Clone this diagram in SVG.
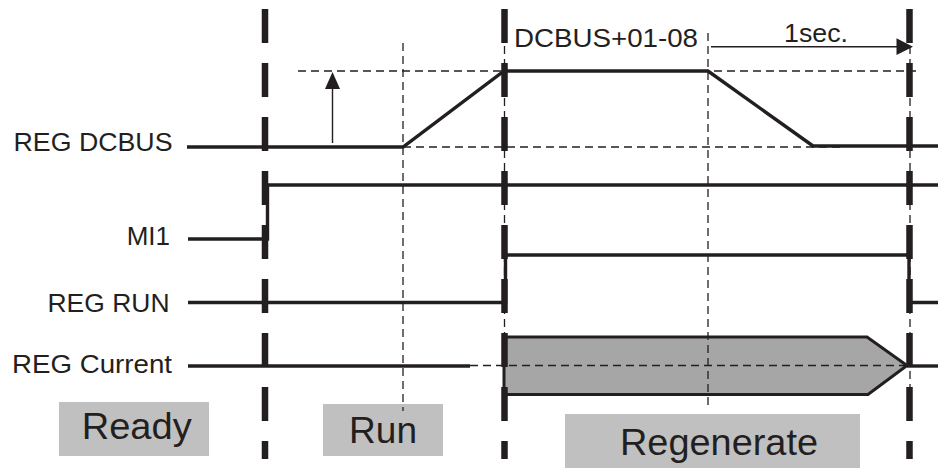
<svg xmlns="http://www.w3.org/2000/svg" width="938" height="470" viewBox="0 0 938 470">
<style>
  text { font-family: "Liberation Sans", Arial, sans-serif; fill: #231f20; }
  .lbl { font-size: 26px; text-anchor: end; }
  .phase { font-size: 36px; }
  .sig { fill: none; stroke: #231f20; stroke-width: 3.4; stroke-linejoin: miter; }
  .thin { fill: none; stroke: #231f20; stroke-width: 1.3; stroke-dasharray: 8 5; }
  .thick { fill: none; stroke: #231f20; stroke-width: 6.5; stroke-dasharray: 34 20; }
  .box { fill: #c1c0c0; }
</style>
<rect width="938" height="470" fill="#ffffff"/>

<g id="phase-boxes">
  <rect class="box" x="59" y="402" width="150" height="54"/>
  <rect class="box" x="323" y="404" width="120" height="52"/>
  <rect class="box" x="565" y="414" width="295" height="54"/>
</g>

<g id="guides">
  <line class="thin" x1="298" y1="71" x2="916" y2="71"/>
  <line class="thin" x1="403" y1="147" x2="841" y2="147"/>
  <line class="thin" x1="403" y1="43" x2="403" y2="411"/>
  <line class="thin" x1="504.5" y1="33" x2="504.5" y2="408"/>
  <line class="thin" x1="910" y1="33" x2="910" y2="408"/>
</g>

<g id="regen-band">
  <polygon points="504,337 867,337 907,365.5 868,394.5 504,394.5" fill="#a7a6a6" stroke="#231f20" stroke-width="3"/>
  <line class="thin" x1="470" y1="365.5" x2="907" y2="365.5"/>
</g>

<g id="guide-708">
  <line class="thin" x1="708" y1="33" x2="708" y2="405"/>
</g>

<g id="signals">
  <polyline id="reg-dcbus" class="sig" points="187,147 403,147 504,71 708,71 813,146 938,146"/>
  <polyline id="mi1" class="sig" points="188,239 267.5,239 267.5,185 938,185"/>
  <polyline id="reg-run" class="sig" points="188,302.5 505.5,302.5 505.5,255 909,255 909,302.5 938,302.5"/>
  <line id="reg-current-a" class="sig" x1="188" y1="366" x2="470" y2="366"/>
  <line id="reg-current-b" class="sig" x1="907" y1="366" x2="938" y2="366"/>
</g>

<g id="connectors">
  <line x1="332.5" y1="143" x2="332.5" y2="88" stroke="#231f20" stroke-width="1.4"/>
  <polygon points="332.5,72 325,89 340,89" fill="#231f20"/>
  <line x1="711" y1="46.7" x2="898" y2="46.7" stroke="#231f20" stroke-width="1.4"/>
  <polygon points="913,46.7 896.5,38.3 896.5,55" fill="#231f20"/>
</g>

<g id="phase-lines">
  <line class="thick" x1="265" y1="9" x2="265" y2="459"/>
  <line class="thick" x1="504.5" y1="9" x2="504.5" y2="459"/>
  <line class="thick" x1="909.5" y1="9" x2="909.5" y2="459"/>
</g>

<g id="labels">
  <text class="lbl" x="172.5" y="150.5" textLength="159" lengthAdjust="spacingAndGlyphs">REG DCBUS</text>
  <text class="lbl" x="170" y="245">MI1</text>
  <text class="lbl" x="169.5" y="311.5" textLength="122" lengthAdjust="spacingAndGlyphs">REG RUN</text>
  <text class="lbl" x="172" y="372.5" textLength="160" lengthAdjust="spacingAndGlyphs">REG Current</text>
  <text x="514" y="46.7" font-size="25" textLength="184" lengthAdjust="spacingAndGlyphs">DCBUS+01-08</text>
  <text x="784" y="41.7" font-size="26" textLength="64" lengthAdjust="spacingAndGlyphs">1sec.</text>
</g>

<g id="phase-text">
  <text class="phase" x="81.7" y="439.3" textLength="110" lengthAdjust="spacingAndGlyphs">Ready</text>
  <text class="phase" x="349" y="443.3" textLength="68" lengthAdjust="spacingAndGlyphs">Run</text>
  <text class="phase" x="620" y="455" textLength="198" lengthAdjust="spacingAndGlyphs">Regenerate</text>
</g>
</svg>
